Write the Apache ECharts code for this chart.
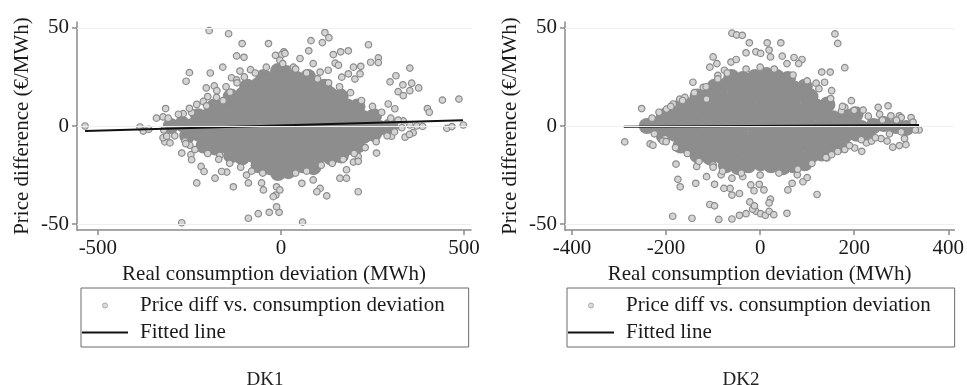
<!DOCTYPE html>
<html>
<head>
<meta charset="utf-8">
<script src="https://cdn.jsdelivr.net/npm/echarts@6/dist/echarts.min.js"></script>
<style>
  html, body { margin: 0; padding: 0; background: #fff; }
  #main { width: 967px; height: 385px; }
</style>
</head>
<body>
<div id="main"></div>
<script>
  // tick labels
  const xTicksDK1 = [-500, 0, 500];
  const xTicksDK2 = [-400, -200, 0, 200, 400];
  const yTicks = [-50, 0, 50];

  // fitted lines (end points)
  const fitDK1 = [[-535, -2.6], [497, 2.9]];
  const fitDK2 = [[-290, -0.4], [338, 0.5]];

  // DK1 - dense middle of the cloud
  const coreDK1 = [
    [-8,28],[14,27],
    [-47,25],[-16,24],[14,25],[43,24],[74,25],
    [-92,20],[-61,21],[-31,20],[1,20],[29,21],[61,20],[89,19],[118,20],
    [-137,15],[-104,16],[-76,15],[-44,14],[-14,15],[16,16],[46,15],[74,14],[106,15],[134,16],[163,15],
    [-182,10],[-151,11],[-119,10],[-91,9],[-58,10],[-29,11],[2,10],[31,9],[59,10],[91,11],[120,10],[149,9],[181,10],[209,10],
    [-226,5],[-194,6],[-166,5],[-134,4],[-104,5],[-76,6],[-44,5],[-16,4],[14,5],[46,6],[74,5],[106,4],[134,5],[166,6],[194,5],[226,4],[254,5],
    [-301,0],[-269,1],[-241,0],[-209,-1],[-181,0],[-149,1],[-121,0],[-89,-1],[-61,0],[-29,1],[1,0],[29,-1],[61,0],[89,1],[121,0],[149,-1],[181,0],[209,1],[241,0],[269,-1],[299,0],
    [-256,-5],[-224,-4],[-196,-5],[-164,-6],[-136,-5],[-104,-4],[-76,-5],[-44,-6],[-16,-5],[14,-4],[46,-5],[74,-6],[106,-5],[134,-4],[166,-5],[194,-6],[226,-5],[254,-4],
    [-211,-10],[-179,-11],[-151,-10],[-119,-9],[-91,-10],[-59,-11],[-31,-10],[1,-9],[29,-10],[61,-11],[89,-10],[121,-9],[149,-10],[181,-11],[209,-10],
    [-136,-15],[-106,-16],[-74,-15],[-46,-14],[-14,-15],[16,-16],[44,-15],[76,-14],[104,-15],[136,-16],[164,-15],
    [-61,-20],[-31,-21],[-1,-20],[31,-19],[59,-20],[89,-21],
    [-8,-24],[20,-23]
  ];

  // DK1 - single points round the cloud
  const pointsDK1 = [
    [-535,0],[-196,48.6],[-143,47],[-106,42],[-34,42],[120,47.6],[131,45],[82,43.5],[113,42.5],[239,41.4],
    [-121,35.7],[-101,35],[8,37.8],[2,36.4],[76,38.3],[163,37.8],[184,38.3],[266,34.7],[143,36.4],[148,32],
    [-250,27.2],[-259,22.8],[-193,27],[-159,30],[-112,28],[-83,28.7],[-204,19.4],[-182,20.4],[198,30],[218,30.4],
    [245,32.5],[266,32.3],[216,26.6],[202,23.9],[314,25.6],[352,29.5],[333,21],[357,21.8],[376,19.4],[298,22.5],
    [320,17.5],[352,18],[334,15.5],[293,11.2],[311,8.8],[400,8.9],[405,7],[441,13.2],[486,13.7],[498,0.5],
    [453,-1.2],[467,-0.3],[352,0.5],[371,0],[387,-0.2],[330,-0.9],[334,2.6],[361,-3.4],[339,-5.7],[351,-4.3],
    [302,-5.2],[261,-13.8],[211,-15.5],[198,-18.4],[211,-18],[179,-22.3],[179,-26.6],[161,-26.6],[211,-33.5],[125,-35.6],
    [107,-31.8],[98,-33.5],[88,-27.5],[57,-29.2],[59,-49],[-5,-44],[-12,-41.2],[-32,-44],[-62,-44.7],[-89,-47],
    [-14,-35.2],[-21,-36],[-12,-31],[-3,-32.6],[-53,-29],[-48,-32.6],[-94,-25],[-89,-29],[-130,-31],[-180,-26.6],
    [-230,-29],[-271,-49.3],[-148,-23.5],[-162,-23.2],[-218,-20.6],[-210,-23.2],[-246,-14.6],[-244,-17.2],[-271,-13.8],[-167,-15],
    [-317,-8.1],[-303,-8.6],[-322,-6],[-312,-5.2],[-262,-7.7],[-249,-9.8],[-385,-0.5],[-376,-2.6],[-361,-1.7],[-340,4],
    [-322,4.6],[-308,4],[-315,8.9],[-267,6.3],[-244,6.9],[-212,12.5],[-203,10.3],[-176,14.6],[-158,12.9],[-139,17.2],
    [-135,24.6],[-121,23.5],[-15,36],[-3,33.5],[5,31.8],[11,37],[34,30],[52,34.4],[88,31.8],[107,27.5],
    [129,28.4],[157,31],[166,24.9],[184,26.6],
    [-280,6],[-250,9],[-230,11],[-200,15],[-175,18],[-150,20],[-120,22],[-100,25],[-70,27],[-40,30],
    [40,29],[70,27],[100,24],[130,22],[160,20],[190,17],[220,13],[250,10],[275,7],[300,4],[320,3],
    [-320,-2],[-290,-5],[-260,-9],[-235,-12],[-200,-14],[-170,-17],[-140,-19],[-110,-21],[-80,-23],[-50,-24],
    [40,-24],[70,-23],[110,-20],[140,-19],[170,-17],[200,-14],[230,-11],[260,-8],[290,-5],[310,-3]
  ];

  // DK2 - dense middle of the cloud
  const coreDK2 = [
    [-61,25],[-37,24],[-11,25],[13,26],[35,25],[59,24],
    [-97,20],[-71,21],[-49,20],[-23,19],[1,20],[25,21],[47,20],[73,19],[95,20],
    [-133,15],[-107,16],[-85,15],[-59,14],[-37,15],[-11,16],[13,15],[37,14],[59,15],[85,16],[107,15],
    [-169,10],[-143,11],[-121,10],[-95,9],[-73,10],[-47,11],[-25,10],[1,9],[23,10],[49,11],[71,10],[97,9],[119,10],[143,11],
    [-205,5],[-179,6],[-157,5],[-131,4],[-109,5],[-83,6],[-61,5],[-35,4],[-13,5],[11,6],[37,5],[59,4],[85,5],[107,6],[133,5],[155,4],[181,5],[203,6],
    [-241,0],[-217,1],[-191,0],[-169,-1],[-143,0],[-121,1],[-95,0],[-73,-1],[-47,0],[-23,1],[1,0],[23,-1],[49,0],[71,1],[97,0],[119,-1],[145,0],[167,1],[193,0],[215,-1],[241,0],[263,1],[289,0],[311,-1],
    [-205,-5],[-181,-4],[-155,-5],[-133,-6],[-107,-5],[-85,-4],[-59,-5],[-37,-6],[-11,-5],[13,-4],[35,-5],[61,-6],[83,-5],[109,-4],[131,-5],[157,-6],[179,-5],[205,-4],[229,-5],
    [-169,-10],[-145,-11],[-119,-10],[-97,-9],[-71,-10],[-49,-11],[-23,-10],[-1,-9],[25,-10],[47,-11],[73,-10],[95,-9],[121,-10],[143,-11],[167,-10],
    [-133,-15],[-107,-16],[-85,-15],[-61,-14],[-35,-15],[-13,-16],[11,-15],[37,-14],[59,-15],[83,-16],[109,-15],[131,-14],
    [-73,-20],[-47,-21],[-25,-20],[1,-19],[23,-20],[49,-21],[71,-20],[95,-19]
  ];

  // DK2 - single points round the cloud
  const pointsDK2 = [
    [-252,8.9],[-288,-8.1],[-234,-9.1],[-228,-9.8],[-202,-6.4],[-207,-7.7],[-179,-19.4],[-175,-27.2],[-170,-31],[-186,-46],
    [-145,-47],[-137,-29.2],[-88,-47.6],[-60,-47.4],[-44,-45.5],[-30,-44.7],[-9,-43.5],[-16,-42.4],[1,-44.7],[11,-45.5],
    [19,-43.5],[29,-45.2],[57,-44.5],[-22,-38.7],[-12,-40.7],[22,-37.3],[19,-39.2],[-107,-40],[-97,-40.7],[-60,-35.2],
    [-44,-34.4],[-64,-31.8],[-77,-31.8],[-20,-30],[-2,-29.7],[8,-32.6],[-13,-33],[59,-32.6],[121,-34.9],[68,-29.2],
    [91,-28.4],[79,-24.9],[100,-26.3],[-97,-29.7],[-83,-24.9],[-114,-25.8],[-135,-20.6],[-100,-19.8],[-60,-26.6],[-37,-25.8],
    [142,-16.3],[152,-14.6],[180,-12],[201,-11.2],[216,-12.9],[226,-8.6],[237,-7.7],[282,-10.8],[296,-10],[310,-9.5],
    [307,-6.4],[338,-2],[257,-6.4],[270,-7.7],
    [-60,47.3],[-50,46.4],[-38,46.2],[-23,42.4],[15,42.4],[44,42.4],[159,46.9],[165,42.1],[180,29.7],[-100,35.2],
    [-92,31.8],[-62,32.6],[-51,33.9],[-30,37.3],[-9,37.8],[1,37],[19,38.7],[22,35.2],[47,35.6],[72,34.9],
    [89,33.9],[57,31.8],[82,31.8],[131,27.5],[149,27.5],[119,21.8],[137,22.3],[152,18],[194,12.9],[180,9.5],
    [173,7.7],[219,8.1],[251,9.5],[272,10.3],[254,6],[278,5.2],[296,5.2],[300,4.3],[321,4.3],[-143,22.3],
    [-121,19.7],[-114,13.7],[-171,13.7],[-160,14.6],[-185,11.2],[-199,8.6],[-90,25.8],[-76,28.4],[-107,30],
    [-230,4],[-215,7],[-190,10],[-165,13],[-140,17],[-115,20],[-90,24],[-70,27],[-30,29],[0,30],
    [30,29],[70,26],[100,23],[125,19],[150,14],[175,10],[200,8],[230,5],[260,3],[290,3],[325,2],
    [-225,-4],[-200,-8],[-180,-11],[-155,-14],[-130,-18],[-100,-21],[-80,-23],[-40,-24],[0,-25],[40,-24],
    [80,-22],[110,-19],[140,-16],[165,-13],[190,-10],[215,-7],[245,-6],[275,-4],[300,-3],[330,-2]
  ];

  const scatterName = "Price diff vs. consumption deviation";
  const fitName = "Fitted line";
  const serif = "Liberation Serif";
  const axisGray = "#8a8a8a";

  let chart = echarts.init(document.getElementById("main"), null, { renderer: "canvas" });

  let makeX = (idx, min, max, ticks) => ({
    type: "value",
    gridIndex: idx,
    min: min,
    max: max,
    name: "Real consumption deviation (MWh)",
    nameLocation: "middle",
    nameGap: 27,
    nameTextStyle: { fontFamily: serif, fontSize: 21, color: "#1a1a1a" },
    axisLine: { show: true, onZero: false, lineStyle: { color: axisGray, width: 1.5 } },
    axisTick: { show: true, length: 5, customValues: ticks, lineStyle: { color: axisGray, width: 1.5 } },
    axisLabel: { customValues: ticks, margin: 8, fontFamily: serif, fontSize: 21, color: "#1a1a1a" },
    splitLine: { show: false },
  });

  let makeY = (idx) => ({
    type: "value",
    gridIndex: idx,
    min: -53,
    max: 53,
    name: "Price difference (€/MWh)",
    nameLocation: "middle",
    nameGap: 44,
    nameTextStyle: { fontFamily: serif, fontSize: 21, color: "#1a1a1a" },
    axisLine: { show: true, onZero: false, lineStyle: { color: axisGray, width: 1.5 } },
    axisTick: { show: true, length: 5, customValues: yTicks, lineStyle: { color: axisGray, width: 1.5 } },
    axisLabel: { customValues: yTicks, margin: 8, fontFamily: serif, fontSize: 21, color: "#1a1a1a" },
    splitLine: { show: false },
  });

  let hollow = {
    color: "#d4d4d4",
    borderColor: "#8a8a8a",
    borderWidth: 1.2,
    opacity: 1,
  };

  let makeLegend = (left) => ({
    left: left,
    top: 288,
    orient: "vertical",
    data: [
      { name: scatterName, itemStyle: { color: "#dcdcdc", borderColor: "#a8a8a8", borderWidth: 1 } },
      { name: fitName, icon: "path://M0,0 L46,0 L46,2 L0,2 Z" },
    ],
    itemWidth: 46,
    itemHeight: 5,
    itemGap: 6,
    symbolKeepAspect: true,
    selectedMode: false,
    borderColor: "#6a6a6a",
    borderWidth: 1,
    borderRadius: 0,
    padding: [7, 24, 4, 1],
    textStyle: { fontFamily: serif, fontSize: 21, color: "#1a1a1a", padding: [0, 0, 0, 7] },
  });

  let gridLines = (vals) => ({
    silent: true,
    symbol: "none",
    label: { show: false },
    lineStyle: { color: "#efefef", width: 1, type: "solid" },
    data: vals.map((v) => ({ yAxis: v })),
  });

  let panelSeries = (idx, points, core, fit) => [
    {
      name: scatterName,
      type: "scatter",
      xAxisIndex: idx,
      yAxisIndex: idx,
      data: points,
      symbol: "circle",
      symbolSize: 6.5,
      itemStyle: hollow,
      z: 3,
      animation: false,
    },
    {
      name: scatterName,
      type: "scatter",
      xAxisIndex: idx,
      yAxisIndex: idx,
      data: core,
      symbol: "circle",
      symbolSize: 16,
      itemStyle: { color: "#8d8d8d", opacity: 1 },
      z: 2,
      animation: false,
    },
    {
      name: fitName,
      type: "line",
      xAxisIndex: idx,
      yAxisIndex: idx,
      data: fit,
      symbol: "none",
      lineStyle: { color: "#111", width: 2 },
      itemStyle: { color: "#111" },
      markLine: gridLines(yTicks),
      z: 4,
      animation: false,
    },
  ];

  let option = {
    backgroundColor: "#fff",
    animation: false,
    title: [
      { text: "DK1", left: 260, top: 366, textAlign: "center",
        textStyle: { fontFamily: serif, fontSize: 19, fontWeight: "normal", color: "#222" } },
      { text: "DK2", left: 736, top: 366, textAlign: "center",
        textStyle: { fontFamily: serif, fontSize: 19, fontWeight: "normal", color: "#222" } },
    ],
    legend: [makeLegend(81), makeLegend(567)],
    grid: [
      { left: 77, top: 22, width: 394, height: 208 },
      { left: 565, top: 22, width: 392, height: 208 },
    ],
    xAxis: [makeX(0, -557, 519, xTicksDK1), makeX(1, -415, 413, xTicksDK2)],
    yAxis: [makeY(0), makeY(1)],
    series: [
      ...panelSeries(0, pointsDK1, coreDK1, fitDK1),
      ...panelSeries(1, pointsDK2, coreDK2, fitDK2),
    ],
  };
  chart.setOption(option);
</script>
</body>
</html>
